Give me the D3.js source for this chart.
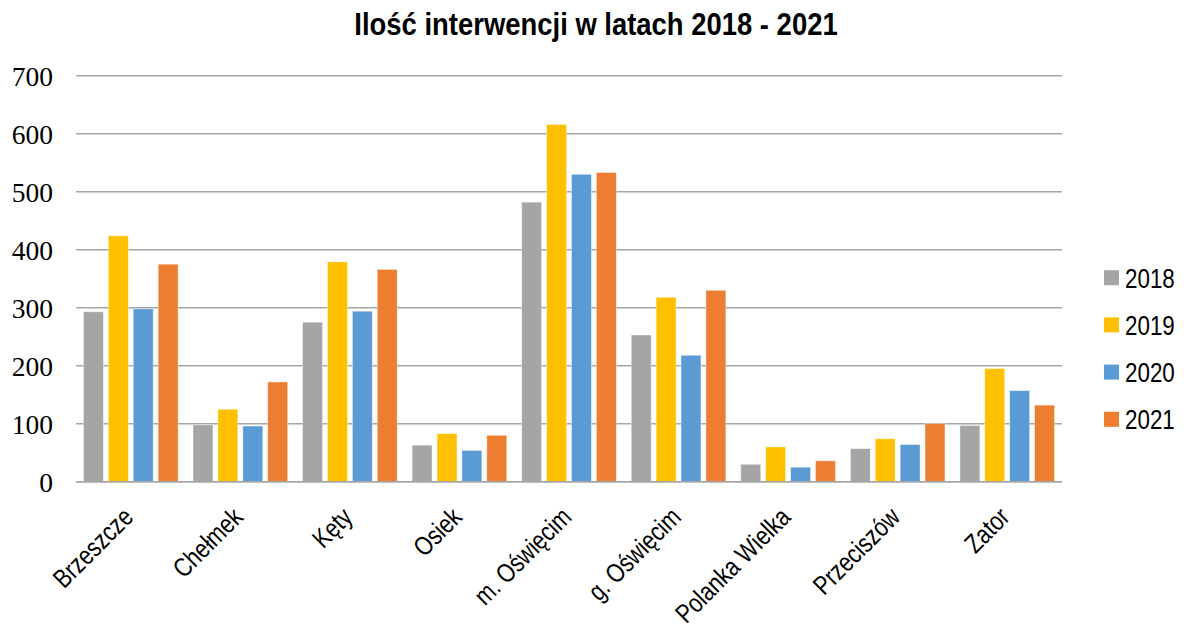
<!DOCTYPE html>
<html>
<head>
<meta charset="utf-8">
<script src="https://cdn.jsdelivr.net/npm/d3@7"></script>
<style>
  html, body { margin: 0; padding: 0; background: #fff; }
  svg { display: block; }
  .narrow { font-family: "Liberation Sans Narrow", "Arial Narrow", "Liberation Sans", Arial, sans-serif; }
</style>
</head>
<body>
<svg id="chart" width="1184" height="628"></svg>
<script>
const categories = ["Brzeszcze", "Chełmek", "Kęty", "Osiek", "m. Oświęcim", "g. Oświęcim", "Polanka Wielka", "Przeciszów", "Zator"];
const seriesNames = ["2018", "2019", "2020", "2021"];
const values2018 = [293, 98, 275, 63, 482, 253, 30, 57, 97];
const values2019 = [424, 125, 379, 83, 616, 318, 60, 74, 195];
const values2020 = [298, 96, 294, 54, 530, 218, 25, 64, 157];
const values2021 = [375, 172, 366, 80, 533, 330, 36, 100, 132];
const yTicks = [0, 100, 200, 300, 400, 500, 600, 700];
const colors = ["#a5a5a5", "#ffc000", "#5b9bd5", "#ed7d31"];
const title = "Ilość interwencji w latach 2018 - 2021";

const seriesValues = [values2018, values2019, values2020, values2021];

const svg = d3.select("#chart");
const plot = { left: 76, right: 1062, top: 75.7, bottom: 481.7 };

// condensed-width emulation (Arial Narrow is not installed)
const narrowX = 0.82;

const y = d3.scaleLinear().domain([0, 700]).range([plot.bottom, plot.top]);
const x0 = d3.scaleBand().domain(categories).range([plot.left, plot.right]).paddingInner(0).paddingOuter(0);
const x1 = d3.scaleBand().domain(seriesNames).range([0, x0.bandwidth()]).paddingInner(0.2).paddingOuter(0.3);
const color = d3.scaleOrdinal().domain(seriesNames).range(colors);

// gridlines
svg.append("g")
  .selectAll("line")
  .data(yTicks)
  .join("line")
  .attr("x1", plot.left)
  .attr("x2", plot.right)
  .attr("y1", d => y(d))
  .attr("y2", d => y(d))
  .attr("stroke", "#a6a6a6")
  .attr("stroke-width", 1.4);

// y axis labels
const yAxis = d3.axisLeft(y).tickValues(yTicks).tickSize(0).tickPadding(0);
const yg = svg.append("g").attr("transform", `translate(53,0)`).call(yAxis);
yg.select(".domain").remove();
yg.selectAll("text")
  .attr("font-family", "'Liberation Serif', 'Times New Roman', serif")
  .attr("font-size", 27.5)
  .attr("fill", "#000")
  .attr("x", 0)
  .attr("dy", "0.34em");

// bars
const groups = svg.append("g")
  .selectAll("g")
  .data(categories)
  .join("g")
  .attr("transform", d => `translate(${x0(d)},0)`);

groups.selectAll("rect")
  .data((c, i) => seriesNames.map((s, k) => ({ s, v: seriesValues[k][i] })))
  .join("rect")
  .attr("x", d => x1(d.s))
  .attr("width", x1.bandwidth())
  .attr("y", d => y(d.v))
  .attr("height", d => y(0) - y(d.v))
  .attr("fill", d => color(d.s))
  .attr("stroke", "#ffffff")
  .attr("stroke-opacity", 0.5)
  .attr("stroke-width", 0.8);

// baseline
svg.append("line")
  .attr("x1", plot.left).attr("x2", plot.right)
  .attr("y1", y(0)).attr("y2", y(0))
  .attr("stroke", "#a6a6a6").attr("stroke-width", 1.4);

// category labels
const xAxis = d3.axisBottom(x0).tickSize(0).tickPadding(0);
const xg = svg.append("g").attr("transform", `translate(0,${plot.bottom})`).call(xAxis);
xg.select(".domain").remove();
xg.selectAll("text")
  .attr("class", "narrow")
  .attr("font-family", null)
  .attr("font-size", 26.5)
  .attr("fill", "#000")
  .attr("text-anchor", "end")
  .attr("dy", null)
  .attr("y", 0)
  .attr("transform", `translate(4,37) rotate(-45) scale(${narrowX},1)`);

// title
svg.append("text")
  .attr("class", "narrow")
  .attr("transform", "translate(596,35) scale(0.885,1)")
  .attr("text-anchor", "middle")
  .attr("font-size", 31)
  .attr("font-weight", "bold")
  .attr("fill", "#000")
  .text(title);

// legend
const legend = svg.append("g")
  .selectAll("g")
  .data(seriesNames)
  .join("g")
  .attr("transform", (d, i) => `translate(1104,${277.7 + i * 47.2})`);
legend.append("rect")
  .attr("x", 0).attr("y", -7.5)
  .attr("width", 15).attr("height", 15)
  .attr("fill", d => color(d));
legend.append("text")
  .attr("class", "narrow")
  .attr("transform", `translate(21,0) scale(0.8,1)`)
  .attr("dy", "0.36em")
  .attr("font-size", 28)
  .attr("fill", "#000")
  .text(d => d);
</script>
</body>
</html>
